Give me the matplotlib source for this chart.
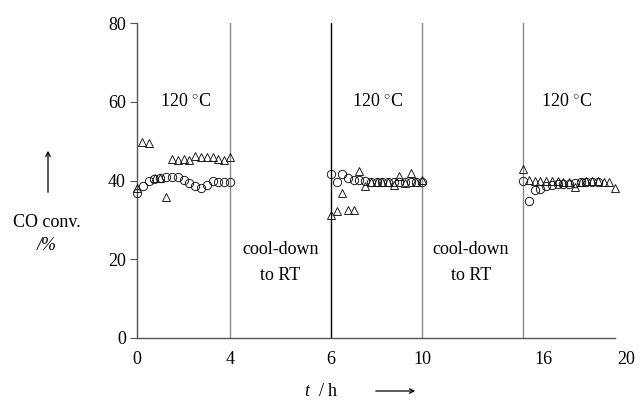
import numpy as np
import matplotlib
matplotlib.use("Agg")
import matplotlib.pyplot as plt
import matplotlib.transforms as mtransforms

plt.rcParams['font.family'] = ['Liberation Serif', 'DejaVu Serif']
plt.rcParams['mathtext.fontset'] = 'custom'
plt.rcParams['mathtext.rm'] = 'Liberation Serif'
plt.rcParams['mathtext.it'] = 'Liberation Serif:italic'

# ---- data (hours, CO conversion %) ----
t_circ_1 = [0, 0.25, 0.5, 0.75, 1.0, 1.25, 1.5, 1.75, 2.0, 2.25, 2.5, 2.75, 3.0, 3.25, 3.5, 3.75, 4.0]
co_circ_1 = [36.8, 38.5, 39.8, 40.5, 40.6, 40.8, 41.0, 40.9, 40.2, 39.4, 38.7, 38.1, 38.8, 40.0, 39.7, 39.6, 39.5]
t_tri_1 = [0, 0.22, 0.52, 0.77, 1.0, 1.25, 1.5, 1.75, 2.0, 2.25, 2.5, 2.75, 3.0, 3.25, 3.5, 3.75, 4.0]
co_tri_1 = [38.1, 49.7, 49.5, 40.6, 40.6, 35.8, 45.4, 45.1, 45.4, 45.2, 46.1, 46.0, 46.0, 45.9, 45.5, 45.2, 46.0]

t_circ_2 = [6.0, 6.25, 6.5, 6.75, 7.0, 7.25, 7.5, 7.75, 8.0, 8.25, 8.5, 8.75, 9.0, 9.25, 9.5, 9.75, 10.0]
co_circ_2 = [41.6, 39.7, 41.7, 40.6, 40.2, 40.2, 39.8, 39.7, 39.7, 39.6, 39.6, 39.5, 39.6, 39.6, 39.5, 39.5, 39.6]
t_tri_2 = [6.0, 6.25, 6.5, 6.75, 7.0, 7.25, 7.5, 7.75, 8.0, 8.25, 8.5, 8.75, 9.0, 9.25, 9.5, 9.75, 10.0]
co_tri_2 = [31.2, 32.2, 36.8, 32.4, 32.4, 42.5, 38.6, 39.7, 39.7, 39.7, 39.7, 38.9, 41.1, 39.3, 42.0, 39.6, 40.2]

t_circ_3 = [16.0, 16.25, 16.5, 16.75, 17.0, 17.25, 17.5, 17.75, 18.0, 18.25, 18.5, 18.75, 19.0, 19.25]
co_circ_3 = [40.0, 34.9, 37.5, 37.9, 38.5, 38.8, 39.0, 39.1, 39.2, 39.3, 39.5, 39.6, 39.6, 39.5]
t_tri_3 = [16.0, 16.25, 16.5, 16.75, 17.0, 17.25, 17.5, 17.75, 18.0, 18.25, 18.5, 18.75, 19.0, 19.25, 19.5, 19.75, 20.0]
co_tri_3 = [42.8, 40.2, 40.0, 39.9, 40.0, 39.8, 40.0, 39.7, 39.6, 38.3, 39.6, 39.9, 39.9, 39.8, 39.6, 39.6, 38.2]

x_ticks = [0, 4, 6, 10, 16, 20]
x_tick_labels = ['0', '4', '6', '10', '16', '20']
y_ticks = [0, 20, 40, 60, 80]
phase_lines = [4, 6, 10, 16]
phase_line_colors = ['#8a8a8a', '#000000', '#8a8a8a', '#8a8a8a']

# broken (piecewise-linear) time axis
h_knots = np.array([0, 4, 6, 10, 16, 20], dtype=float)
d_knots = np.array([0, 93, 194, 285, 386, 478], dtype=float)

def fwd(x):
    return np.interp(x, h_knots, d_knots)

def inv(d):
    return np.interp(d, d_knots, h_knots)

fig = plt.figure(figsize=(6.4, 4.01), dpi=100)
ax = fig.add_axes([137/640, 1 - 338/401, 478/640, 315/401])
ax.set_xscale('function', functions=(fwd, inv))
ax.set_xlim(0, 20)
ax.set_ylim(0, 80)

for xv, col in zip(phase_lines, phase_line_colors):
    ax.axvline(xv, color=col, lw=1.0, zorder=1)

mk = dict(linestyle='none', markerfacecolor='none', markeredgecolor='#111111',
          markeredgewidth=0.65, zorder=3, clip_on=False)
for tc, cc in [(t_circ_1, co_circ_1), (t_circ_2, co_circ_2), (t_circ_3, co_circ_3)]:
    ax.plot(tc, cc, marker='o', markersize=6, **mk)
for tt, ct in [(t_tri_1, co_tri_1), (t_tri_2, co_tri_2), (t_tri_3, co_tri_3)]:
    ax.plot(tt, ct, marker='^', markersize=6, **mk)

fs = 13
for xv in [2.1, 8.05, 17.9]:
    ax.text(xv, 60, r'120 $^{\circ}$C', ha='center', va='center', fontsize=fs)
for xv in [5.0, 12.9]:
    ax.text(xv, 22.5, 'cool-down', ha='center', va='center', fontsize=fs)
    ax.text(xv, 15.8, 'to RT', ha='center', va='center', fontsize=fs)

for s in ['top', 'right']:
    ax.spines[s].set_visible(False)
for s in ['left', 'bottom']:
    ax.spines[s].set_color('#555555')
    ax.spines[s].set_linewidth(1.0)

ax.set_xticks(x_ticks)
ax.set_xticklabels(x_tick_labels)
ax.xaxis.set_minor_locator(matplotlib.ticker.NullLocator())
ax.set_yticks(y_ticks)
ax.tick_params(axis='x', length=0, pad=9, labelsize=fs)
ax.tick_params(axis='y', length=5, width=0.8, color='#555555', pad=3, labelsize=fs)

shifts = {'16': 20, '20': 11}
for lab in ax.get_xticklabels():
    dx = shifts.get(lab.get_text(), 0)
    if dx:
        lab.set_transform(lab.get_transform() + mtransforms.ScaledTranslation(dx / 100, 0, fig.dpi_scale_trans))

# axis titles
fig.text(47/640, 1 - 222/401, 'CO conv.', ha='center', va='center', fontsize=fs)
fig.text(47/640, 1 - 245/401, '/%', ha='center', va='center', fontsize=fs, style='italic')
fig.add_artist(matplotlib.patches.FancyArrowPatch((48/640, 1 - 195/401), (48/640, 1 - 148/401),
               transform=fig.transFigure, arrowstyle='->', mutation_scale=8, lw=0.9, color='black'))
fig.text(321/640, 1 - 392/401, r'$t$  / h', ha='center', va='center', fontsize=fs)
fig.add_artist(matplotlib.patches.FancyArrowPatch((373/640, 1 - 391/401), (418/640, 1 - 391/401),
               transform=fig.transFigure, arrowstyle='->', mutation_scale=8, lw=0.9, color='black'))

fig.savefig('out.png', dpi=100)
